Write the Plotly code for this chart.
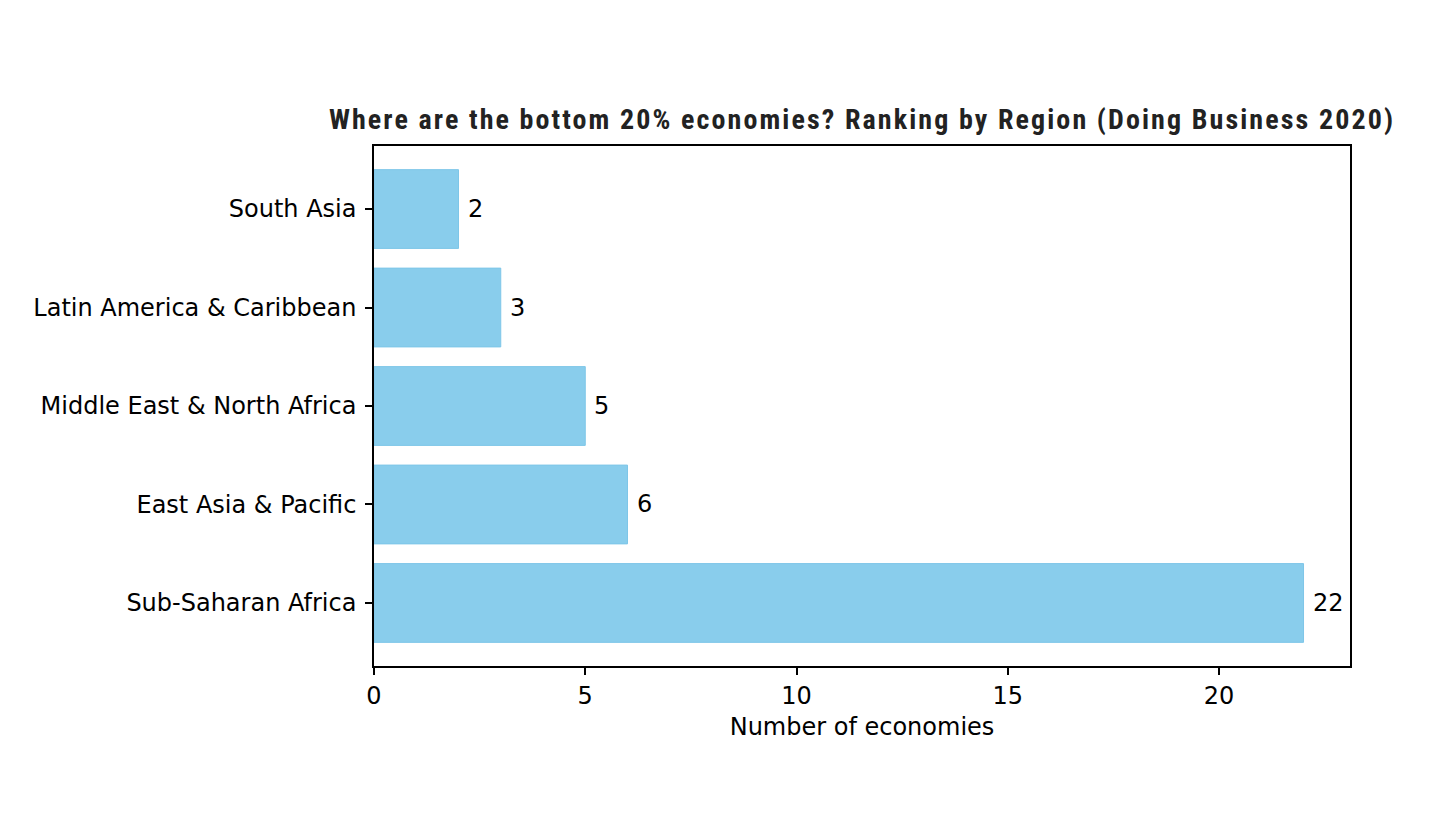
import plotly.graph_objects as go

# data
regions = ["Sub-Saharan Africa", "East Asia & Pacific", "Middle East & North Africa",
           "Latin America & Caribbean", "South Asia"]
counts = [22, 6, 5, 3, 2]
x_ticks = [0, 5, 10, 15, 20]

tick_font = dict(family="DejaVu Sans", size=24, color="black")

title_txt = "Where are the bottom 20% economies? Ranking by Region (Doing Business 2020)"

fig = go.Figure()
fig.add_trace(go.Bar(
    x=counts, y=list(range(len(regions))), orientation="h", width=0.8,
    marker=dict(color="#89CDEC", line=dict(color="#7EC6E8", width=1)),
    hoverinfo="skip",
))

# value labels next to each bar
for i, c in enumerate(counts):
    fig.add_annotation(x=c, y=i, text=str(c), showarrow=False,
                       xanchor="left", yanchor="middle", xshift=7,
                       font=tick_font)

fig.update_layout(
    width=1456, height=819,
    paper_bgcolor="white", plot_bgcolor="white",
    margin=dict(l=366, r=114, t=138, b=161),
    showlegend=False,
    title=dict(
        text='<span style="letter-spacing:2.1px">' + title_txt + "</span>",
        x=(366 + 1342) / 2 / 1456, xanchor="center",
        y=1 - 111 / 819, yanchor="middle",
        font=dict(family="Roboto Condensed, Roboto", size=28, color="#222222", weight="bold"),
    ),
)

fig.update_xaxes(
    range=[0, 23.1], tickvals=x_ticks, ticks="outside", ticklen=7, tickwidth=1.5,
    tickcolor="black", showline=True, linecolor="black", linewidth=1.5, mirror=True,
    showgrid=False, zeroline=False, tickfont=tick_font,
    title=dict(text="Number of economies", font=tick_font, standoff=10),
)
fig.update_yaxes(
    range=[-0.64, 4.64], tickvals=list(range(len(regions))), ticktext=regions,
    ticks="outside", ticklen=7, tickwidth=1.5, tickcolor="black", ticklabelstandoff=4,
    showline=True, linecolor="black", linewidth=1.5, mirror=True,
    showgrid=False, zeroline=False, tickfont=tick_font,
)

fig.write_html("out.html")
